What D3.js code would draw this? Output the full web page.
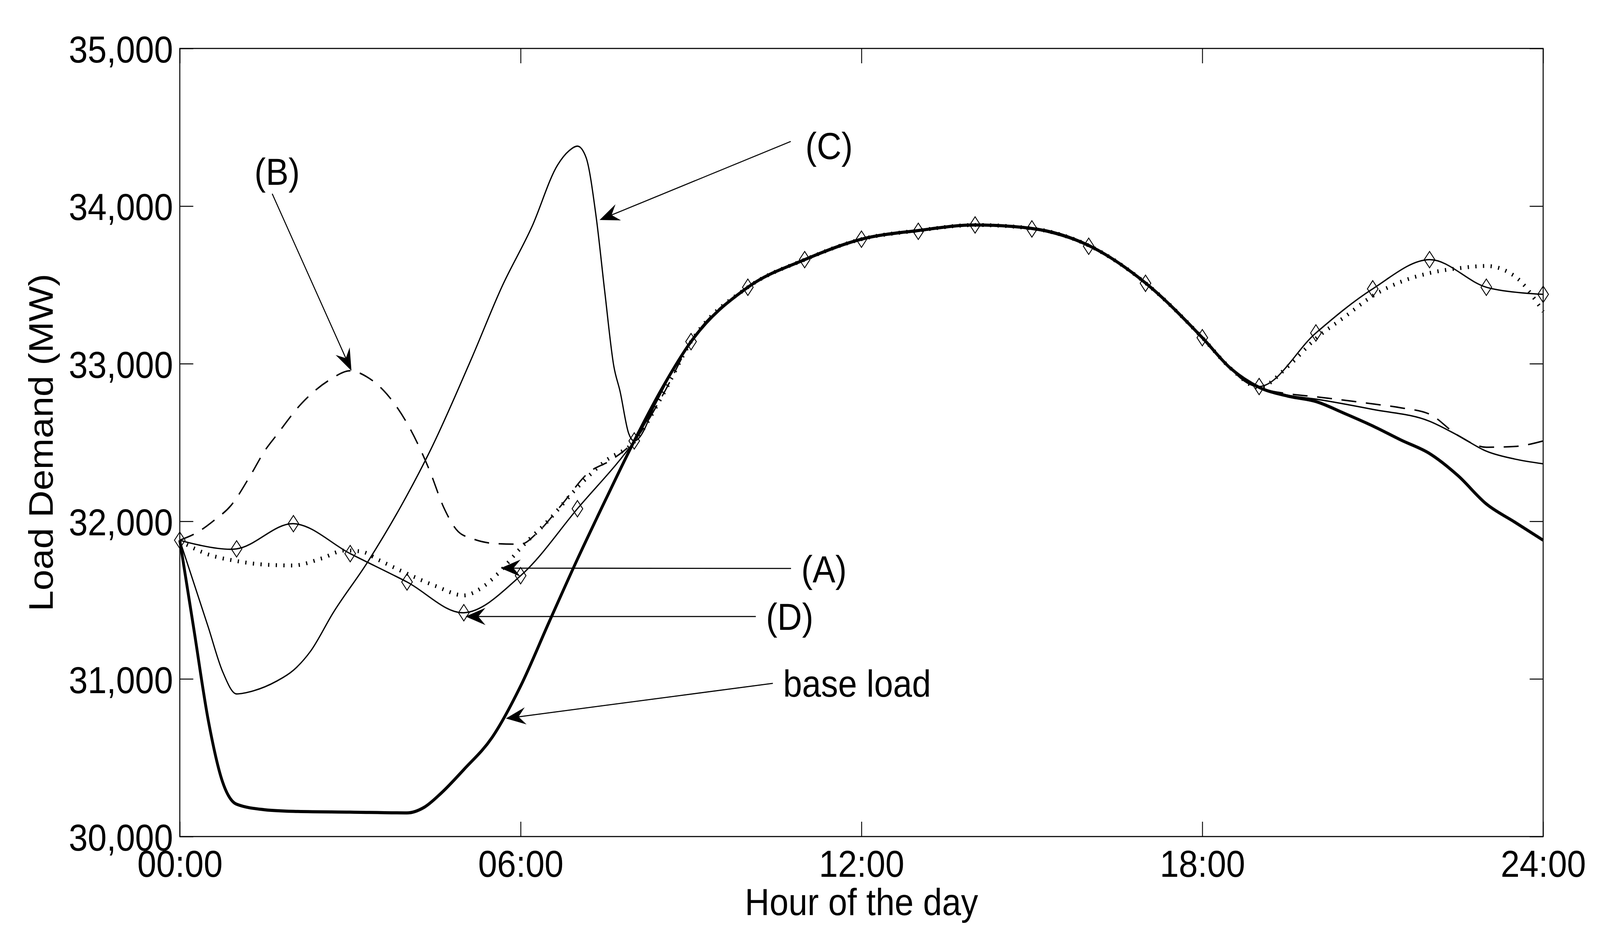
<!DOCTYPE html>
<meta charset="utf-8">
<script src="https://d3js.org/d3.v7.min.js"></script>
<style>
  html, body { margin: 0; padding: 0; background: #fff; overflow: hidden; }
  #page svg { display: block; width: 100vw; height: 100vh; }
  text { font-family: "Liberation Sans", Arial, sans-serif; fill: #000; }
</style>

<div id="page"></div>

<script>

  // Axis ticks
  var hourTicks = [0, 6, 12, 18, 24];
  var hourLabels = ["00:00", "06:00", "12:00", "18:00", "24:00"];
  var loadTicks = [30000, 31000, 32000, 33000, 34000, 35000];

  // Series, [hour, MW]
  var baseLoad = [[0, 31880], [0.25, 31310], [0.5, 30740], [0.75, 30350], [1, 30205], [1.5, 30170], [2, 30160],
    [3, 30155], [4, 30150], [4.3, 30185], [4.6, 30275], [5, 30425], [5.5, 30630], [6, 30955],
    [6.5, 31360], [7, 31760], [7.5, 32140], [8, 32510], [8.5, 32850], [9, 33140], [10, 33485], [11, 33660],
    [12, 33790], [13, 33845], [14, 33880], [15, 33858], [16, 33750], [17, 33512], [18, 33165], [18.5, 32970],
    [19, 32850], [19.5, 32795], [20, 32760], [20.5, 32685], [21, 32605], [21.5, 32515], [22, 32430],
    [22.5, 32290], [23, 32110], [23.5, 31995], [24, 31880]];

  var seriesA = [[0, 31875], [0.5, 31790], [1, 31748], [1.5, 31725], [2, 31720], [2.5, 31765], [2.9, 31815],
    [3.2, 31808], [3.5, 31755], [4, 31668], [4.5, 31590], [5, 31530], [5.3, 31575], [5.6, 31668], [6, 31830],
    [6.5, 32010], [7, 32215], [7.5, 32385], [8, 32505], [8.5, 32800], [9, 33140], [10, 33485], [11, 33660],
    [12, 33790], [13, 33845], [14, 33880], [15, 33858], [16, 33750], [17, 33512], [18, 33165], [18.5, 32970],
    [19, 32850], [19.5, 32980], [20, 33160], [20.5, 33295], [21, 33430], [21.5, 33520], [22, 33575],
    [22.5, 33605], [23, 33620], [23.5, 33555], [24, 33330]];

  var seriesB = [[0, 31880], [0.3, 31928], [0.6, 32005], [0.9, 32100], [1.25, 32295], [1.5, 32450], [1.7, 32545],
    [2.15, 32750], [2.65, 32900], [3, 32955], [3.3, 32915], [3.6, 32825], [4.05, 32590], [4.4, 32320],
    [4.65, 32085], [4.9, 31935], [5.15, 31890], [5.6, 31858], [6, 31855], [6.3, 31930], [6.7, 32095],
    [7.2, 32310], [7.6, 32390], [8, 32510], [8.5, 32800], [9, 33140], [10, 33485], [11, 33660], [12, 33790],
    [13, 33845], [14, 33880], [15, 33858], [16, 33750], [17, 33512], [18, 33165], [18.5, 32970], [19, 32850],
    [19.5, 32810], [20, 32790], [21, 32745], [21.5, 32720], [22, 32680], [22.5, 32545], [23, 32470],
    [23.5, 32475], [24, 32510]];

  var seriesC = [[0, 31880], [0.5, 31330], [0.75, 31050], [1, 30905], [1.3, 30925], [1.7, 30985], [2, 31055],
    [2.3, 31175], [2.7, 31420], [3.3, 31738], [3.9, 32100], [4.42, 32457], [5.15, 33045], [5.67, 33488],
    [6.2, 33870], [6.65, 34260], [6.85, 34350], [7, 34380], [7.15, 34310], [7.33, 33930], [7.48, 33460],
    [7.64, 32985], [7.75, 32825], [7.9, 32560], [8, 32510], [8.5, 32850], [9, 33140], [10, 33485], [11, 33660],
    [12, 33790], [13, 33845], [14, 33880], [15, 33858], [16, 33750], [17, 33512], [18, 33165], [18.5, 32970],
    [19, 32850], [19.5, 32800], [20, 32775], [21, 32710], [22, 32635], [22.5, 32545], [23, 32445],
    [23.5, 32395], [24, 32365]];

  var seriesD = [[0, 31880], [1, 31825], [2, 31985], [3, 31795], [4, 31615], [5, 31420], [6, 31655], [7, 32080],
    [8, 32510], [9, 33140], [10, 33485], [11, 33660], [12, 33790], [13, 33840], [14, 33880], [15, 33855],
    [16, 33745], [17, 33510], [18, 33165], [19, 32855], [20, 33195], [21, 33475], [22, 33660], [23, 33485],
    [24, 33440]];

  // Annotations: label, arrow tail, arrow tip, label anchor point
  var annoLabels = ["(B)", "(C)", "(A)", "(D)", "base load"];
  var annoTail = [[1.627, 34078], [10.755, 34410], [10.76, 31701], [10.14, 31396], [10.44, 30972]];
  var annoTip = [[3.022, 32955], [7.39, 33912], [5.65, 31703], [5.03, 31396], [5.74, 30749]];
  var annoText = [[1.714, 34135], [11.43, 34298], [10.94, 31614], [10.32, 31311], [10.62, 30887]];
  var annoAnchor = ["middle", "middle", "start", "start", "start"];

  var W = 4503, H = 2416;
  var margin = { top: 124, right: 160, bottom: 275, left: 506 },
    width = W - margin.left - margin.right,
    height = H - margin.top - margin.bottom;

  // Scale the drawing to whatever viewport the page gets
  var svg = d3.select("#page")
    .append("svg")
    .attr("viewBox", "0 0 " + W + " " + H)
    .attr("preserveAspectRatio", "none")
    .append("g")
    .attr("transform", "translate(" + margin.left + "," + margin.top + ")");

  var x = d3.scaleLinear().domain([0, 24]).range([0, width]);
  var y = d3.scaleLinear().domain([30000, 35000]).range([height, 0]);

  var tick = 38;
  var fmt = d3.format(",");

  // Axes (ticks point inward on all four sides)
  svg.append("g")
    .attr("transform", "translate(0," + height + ")")
    .call(d3.axisBottom(x).tickValues(hourTicks)
      .tickFormat(function (d, i) { return hourLabels[i]; })
      .tickSizeInner(-tick).tickSizeOuter(0).tickPadding(35));
  svg.append("g")
    .call(d3.axisTop(x).tickValues(hourTicks).tickFormat("")
      .tickSizeInner(-tick).tickSizeOuter(0));
  var yl = svg.append("g")
    .call(d3.axisLeft(y).tickValues(loadTicks).tickFormat(fmt)
      .tickSizeInner(-tick).tickSizeOuter(0).tickPadding(19));
  svg.append("g")
    .attr("transform", "translate(" + width + ",0)")
    .call(d3.axisRight(y).tickValues(loadTicks).tickFormat("")
      .tickSizeInner(-tick).tickSizeOuter(0));

  svg.selectAll(".domain").remove();
  svg.selectAll(".tick line").attr("stroke", "#000").attr("stroke-width", 2.5);
  svg.selectAll(".tick text").attr("font-size", "96px")
    .attr("font-family", "'Liberation Sans', Arial, sans-serif").attr("fill", "#000");
  yl.selectAll(".tick text").attr("dy", "0.37em");

  svg.append("rect")
    .attr("width", width).attr("height", height)
    .attr("fill", "none").attr("stroke", "#000").attr("stroke-width", 2.8);

  // Axis titles
  svg.append("text")
    .attr("x", width / 2).attr("y", height + 201)
    .attr("text-anchor", "middle").attr("font-size", "96px")
    .text("Hour of the day");
  svg.append("text")
    .attr("transform", "translate(" + (148 - margin.left) + "," + (height / 2) + ")rotate(-90)")
    .attr("text-anchor", "middle").attr("font-size", "96px")
    .text("Load Demand (MW)");

  // Lines
  var smooth = d3.line()
    .x(function (d) { return x(d[0]); })
    .y(function (d) { return y(d[1]); })
    .curve(d3.curveMonotoneX);
  var spline = d3.line()
    .x(function (d) { return x(d[0]); })
    .y(function (d) { return y(d[1]); })
    .curve(d3.curveCatmullRom.alpha(0.5));

  svg.append("path").datum(seriesA)
    .attr("d", smooth).attr("fill", "none").attr("stroke", "#000")
    .attr("stroke-width", 10).attr("stroke-dasharray", "3.5,18");

  svg.append("path").datum(seriesB)
    .attr("d", smooth).attr("fill", "none").attr("stroke", "#000")
    .attr("stroke-width", 3.8).attr("stroke-dasharray", "42,27");

  svg.append("path").datum(seriesC)
    .attr("d", smooth).attr("fill", "none").attr("stroke", "#000")
    .attr("stroke-width", 3.5);

  svg.append("path").datum(baseLoad)
    .attr("d", smooth).attr("fill", "none").attr("stroke", "#000")
    .attr("stroke-width", 8).attr("stroke-linejoin", "round");

  svg.append("path").datum(seriesD)
    .attr("d", spline).attr("fill", "none").attr("stroke", "#000")
    .attr("stroke-width", 3.5);

  // Diamond markers on (D)
  svg.selectAll("path.diamond")
    .data(seriesD)
    .enter()
    .append("path")
    .attr("class", "diamond")
    .attr("transform", function (d) { return "translate(" + x(d[0]) + "," + y(d[1]) + ")"; })
    .attr("d", "M0,-21L15,0L0,21L-15,0Z")
    .attr("fill", "none").attr("stroke", "#000").attr("stroke-width", 2.4);

  // Annotation arrows
  annoLabels.forEach(function (label, i) {
    var x1 = x(annoTail[i][0]), y1 = y(annoTail[i][1]);
    var x2 = x(annoTip[i][0]), y2 = y(annoTip[i][1]);
    var a = Math.atan2(y2 - y1, x2 - x1);
    var ux = Math.cos(a), uy = Math.sin(a), nx = -uy, ny = ux;
    var L = 56, Hw = 22, N = 36;

    svg.append("line")
      .attr("x1", x1).attr("y1", y1)
      .attr("x2", x2 - N * ux).attr("y2", y2 - N * uy)
      .attr("stroke", "#000").attr("stroke-width", 2.8);

    var head = [
      [x2, y2],
      [x2 - L * ux + Hw * nx, y2 - L * uy + Hw * ny],
      [x2 - N * ux, y2 - N * uy],
      [x2 - L * ux - Hw * nx, y2 - L * uy - Hw * ny]
    ];
    svg.append("path")
      .attr("d", "M" + head.join("L") + "Z")
      .attr("fill", "#000");

    svg.append("text")
      .attr("x", x(annoText[i][0])).attr("y", y(annoText[i][1]))
      .attr("text-anchor", annoAnchor[i]).attr("font-size", "96px")
      .text(label);
  });

</script>
